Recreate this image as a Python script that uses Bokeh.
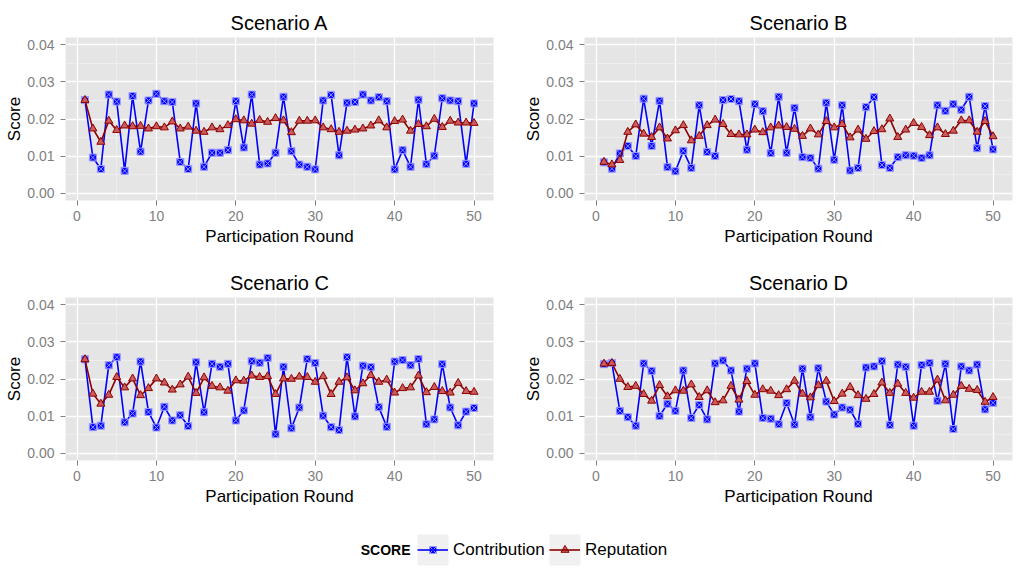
from bokeh.plotting import figure
from bokeh.models import Range1d, FixedTicker, NumeralTickFormatter, Legend, LegendItem, Label
from bokeh.layouts import column, row
from bokeh.embed import file_html
from bokeh.resources import INLINE

rounds = list(range(1, 51))
scenarios = ["Scenario A", "Scenario B", "Scenario C", "Scenario D"]
series_names = ["Contribution", "Reputation"]
x_ticks = [0, 10, 20, 30, 40, 50]
x_minor = [5, 15, 25, 35, 45]
y_ticks = [0.00, 0.01, 0.02, 0.03, 0.04]
y_minor = [0.005, 0.015, 0.025, 0.035]

contrib_a = [0.0251, 0.0096, 0.0065, 0.0266, 0.0247, 0.0060, 0.0262, 0.0112, 0.0250, 0.0268,
             0.0248, 0.0246, 0.0084, 0.0065, 0.0242, 0.0071, 0.0109, 0.0109, 0.0116, 0.0248,
             0.0123, 0.0266, 0.0077, 0.0080, 0.0109, 0.0260, 0.0113, 0.0077, 0.0071, 0.0064,
             0.0250, 0.0265, 0.0102, 0.0244, 0.0246, 0.0266, 0.0250, 0.0259, 0.0248, 0.0064,
             0.0116, 0.0071, 0.0252, 0.0078, 0.0101, 0.0256, 0.0250, 0.0248, 0.0079, 0.0242]
rep_a = [0.0251, 0.0174, 0.0138, 0.0195, 0.0170, 0.0182, 0.0180, 0.0181, 0.0174, 0.0180,
         0.0177, 0.0193, 0.0174, 0.0179, 0.0168, 0.0165, 0.0177, 0.0172, 0.0183, 0.0199,
         0.0196, 0.0187, 0.0197, 0.0192, 0.0202, 0.0196, 0.0164, 0.0195, 0.0195, 0.0196,
         0.0177, 0.0172, 0.0165, 0.0168, 0.0171, 0.0174, 0.0182, 0.0196, 0.0177, 0.0194,
         0.0198, 0.0168, 0.0186, 0.0180, 0.0200, 0.0178, 0.0195, 0.0190, 0.0190, 0.0189]

contrib_b = [0.0083, 0.0066, 0.0107, 0.0127, 0.0100, 0.0255, 0.0127, 0.0249, 0.0070, 0.0059,
             0.0114, 0.0068, 0.0237, 0.0111, 0.0100, 0.0251, 0.0254, 0.0248, 0.0117, 0.0240,
             0.0221, 0.0108, 0.0260, 0.0109, 0.0230, 0.0097, 0.0095, 0.0066, 0.0244, 0.0090,
             0.0237, 0.0061, 0.0068, 0.0232, 0.0259, 0.0076, 0.0068, 0.0097, 0.0102, 0.0101,
             0.0095, 0.0102, 0.0237, 0.0222, 0.0240, 0.0225, 0.0260, 0.0121, 0.0235, 0.0118]
rep_b = [0.0084, 0.0077, 0.0089, 0.0165, 0.0185, 0.0160, 0.0151, 0.0177, 0.0147, 0.0169,
         0.0183, 0.0142, 0.0154, 0.0183, 0.0198, 0.0186, 0.0159, 0.0158, 0.0158, 0.0171,
         0.0164, 0.0177, 0.0182, 0.0178, 0.0173, 0.0154, 0.0174, 0.0158, 0.0194, 0.0177,
         0.0186, 0.0150, 0.0171, 0.0146, 0.0167, 0.0172, 0.0201, 0.0151, 0.0171, 0.0189,
         0.0178, 0.0156, 0.0177, 0.0159, 0.0168, 0.0196, 0.0196, 0.0165, 0.0194, 0.0153]

contrib_c = [0.0253, 0.0070, 0.0074, 0.0237, 0.0259, 0.0083, 0.0107, 0.0247, 0.0111, 0.0069,
             0.0125, 0.0088, 0.0102, 0.0073, 0.0245, 0.0110, 0.0241, 0.0233, 0.0241, 0.0088,
             0.0115, 0.0248, 0.0244, 0.0257, 0.0051, 0.0233, 0.0067, 0.0123, 0.0254, 0.0243,
             0.0101, 0.0070, 0.0062, 0.0259, 0.0099, 0.0236, 0.0232, 0.0124, 0.0071, 0.0247,
             0.0251, 0.0237, 0.0254, 0.0078, 0.0091, 0.0240, 0.0123, 0.0075, 0.0112, 0.0122]
rep_c = [0.0253, 0.0160, 0.0133, 0.0157, 0.0205, 0.0177, 0.0201, 0.0156, 0.0175, 0.0201,
         0.0190, 0.0171, 0.0185, 0.0206, 0.0162, 0.0204, 0.0181, 0.0177, 0.0168, 0.0196,
         0.0195, 0.0209, 0.0205, 0.0207, 0.0159, 0.0201, 0.0200, 0.0206, 0.0205, 0.0192,
         0.0207, 0.0159, 0.0192, 0.0204, 0.0169, 0.0188, 0.0210, 0.0192, 0.0198, 0.0163,
         0.0175, 0.0177, 0.0209, 0.0164, 0.0178, 0.0167, 0.0163, 0.0189, 0.0167, 0.0165]

contrib_d = [0.0240, 0.0243, 0.0114, 0.0097, 0.0074, 0.0242, 0.0222, 0.0100, 0.0133, 0.0114,
             0.0223, 0.0095, 0.0130, 0.0091, 0.0242, 0.0250, 0.0223, 0.0112, 0.0228, 0.0242,
             0.0095, 0.0093, 0.0078, 0.0135, 0.0077, 0.0228, 0.0097, 0.0229, 0.0139, 0.0104,
             0.0123, 0.0117, 0.0079, 0.0231, 0.0234, 0.0248, 0.0076, 0.0239, 0.0233, 0.0074,
             0.0238, 0.0243, 0.0141, 0.0241, 0.0065, 0.0234, 0.0223, 0.0239, 0.0118, 0.0136]
rep_d = [0.0241, 0.0243, 0.0200, 0.0178, 0.0181, 0.0159, 0.0141, 0.0183, 0.0153, 0.0169,
         0.0168, 0.0185, 0.0151, 0.0169, 0.0137, 0.0142, 0.0181, 0.0144, 0.0194, 0.0157,
         0.0172, 0.0168, 0.0156, 0.0172, 0.0195, 0.0160, 0.0150, 0.0183, 0.0195, 0.0140,
         0.0160, 0.0178, 0.0156, 0.0146, 0.0159, 0.0190, 0.0162, 0.0187, 0.0162, 0.0149,
         0.0165, 0.0165, 0.0198, 0.0142, 0.0157, 0.0181, 0.0173, 0.0170, 0.0138, 0.0151]

contribs = [contrib_a, contrib_b, contrib_c, contrib_d]
reps = [rep_a, rep_b, rep_c, rep_d]

FONT = "Liberation Sans"
BLUE = "#0000FF"
BLUE_EDGE = "#9a9aff"
RED = "#8B0000"
RED_FILL = "#cc5c5c"
TICK_GREY = "#7F7F7F"

C_STYLE = dict(marker="square_x", size=7, fill_color=BLUE, line_color=BLUE_EDGE, line_width=1)
R_STYLE = dict(marker="triangle", size=8, fill_color=RED_FILL, line_color=RED, line_width=1)


def make_panel(title, contrib, rep, left, right, top, bottom):
    p = figure(frame_width=428, frame_height=163,
               min_border_left=left, min_border_right=right,
               min_border_top=top, min_border_bottom=bottom,
               x_range=Range1d(-1.45, 52.45), y_range=Range1d(-0.002, 0.042),
               toolbar_location=None, output_backend="svg", title=title)
    p.title.align = "center"
    p.title.text_font = FONT
    p.title.text_font_size = "20px"
    p.title.text_font_style = "normal"
    p.title.text_color = "black"
    p.title.standoff = 7
    p.background_fill_color = "#E5E5E5"
    p.border_fill_color = "white"
    p.outline_line_color = None

    p.xaxis.ticker = FixedTicker(ticks=x_ticks, minor_ticks=x_minor)
    p.yaxis.ticker = FixedTicker(ticks=y_ticks, minor_ticks=y_minor)
    p.yaxis.formatter = NumeralTickFormatter(format="0.00")
    for ax in (p.xaxis, p.yaxis):
        ax.axis_line_color = None
        ax.major_tick_line_color = TICK_GREY
        ax.major_tick_line_width = 1
        ax.major_tick_in = 0
        ax.major_tick_out = 5
        ax.minor_tick_line_color = None
        ax.major_label_text_font = FONT
        ax.major_label_text_font_size = "14px"
        ax.major_label_text_color = TICK_GREY
        ax.axis_label_text_font = FONT
        ax.axis_label_text_font_size = "17px"
        ax.axis_label_text_font_style = "normal"
        ax.axis_label_text_color = "black"
    p.xaxis.axis_label = "Participation Round"
    p.yaxis.axis_label = "Score"
    p.xaxis.major_label_standoff = 5
    p.xaxis.axis_label_standoff = 3
    p.yaxis.major_label_standoff = 6
    p.yaxis.axis_label_standoff = 0

    p.grid.grid_line_color = "white"
    p.grid.grid_line_width = 1.3
    p.grid.minor_grid_line_color = "#F2F2F2"
    p.grid.minor_grid_line_width = 0.7

    p.line(rounds, contrib, line_color=BLUE, line_width=1.6)
    p.scatter(rounds, contrib, **C_STYLE)
    p.line(rounds, rep, line_color=RED, line_width=1.6)
    p.scatter(rounds, rep, **R_STYLE)
    return p


pa = make_panel(scenarios[0], contribs[0], reps[0], 65, 27, 37, 60)
pb = make_panel(scenarios[1], contribs[1], reps[1], 64, 11, 37, 60)
pc = make_panel(scenarios[2], contribs[2], reps[2], 65, 27, 37, 60)
pd = make_panel(scenarios[3], contribs[3], reps[3], 64, 11, 37, 60)

# legend strip
LW, LH = 1023, 54
leg = figure(width=LW, height=LH, x_range=Range1d(0, LW), y_range=Range1d(0, LH),
             min_border=0, toolbar_location=None, output_backend="svg",
             x_axis_type=None, y_axis_type=None)
leg.outline_line_color = None
leg.background_fill_color = "white"
leg.border_fill_color = "white"

KEY = 31
key_lefts = [417, 549]
key_bottom = 9
key_centers_x = [k + KEY / 2 for k in key_lefts]
key_center_y = key_bottom + KEY / 2
leg.quad(left=key_lefts, right=[k + KEY for k in key_lefts], bottom=[key_bottom] * 2,
         top=[key_bottom + KEY] * 2, fill_color="#F0F0F0", line_color=None)

# off-canvas stand-ins so the legend can draw its line keys
off = [-100]
l1 = leg.line(x=off, y=off, line_color=BLUE, line_width=1.6)
l2 = leg.line(x=off, y=off, line_color=RED, line_width=1.6)

for name, r, kx in zip(series_names, [l1, l2], key_lefts):
    lg = Legend(items=[LegendItem(label=name, renderers=[r])], location=(kx, key_bottom),
                orientation="horizontal", glyph_width=KEY, glyph_height=KEY,
                label_height=KEY, label_standoff=5, padding=0, margin=0, spacing=0,
                border_line_color=None, background_fill_alpha=0,
                label_text_font=FONT, label_text_font_size="17px",
                label_text_color="black")
    leg.add_layout(lg)

# key markers drawn above the legend lines, at normal marker size
leg.scatter(x=key_centers_x[:1], y=[key_center_y], level="overlay", **C_STYLE)
leg.scatter(x=key_centers_x[1:], y=[key_center_y], level="overlay", **R_STYLE)

leg.add_layout(Label(x=410, y=key_center_y, text="SCORE", text_font=FONT,
                     text_font_size="14px", text_font_style="bold", text_align="right",
                     text_baseline="middle", text_color="black"))

layout = column(row(pa, pb), row(pc, pd), leg)
open("out.html", "w").write(file_html(layout, INLINE))
